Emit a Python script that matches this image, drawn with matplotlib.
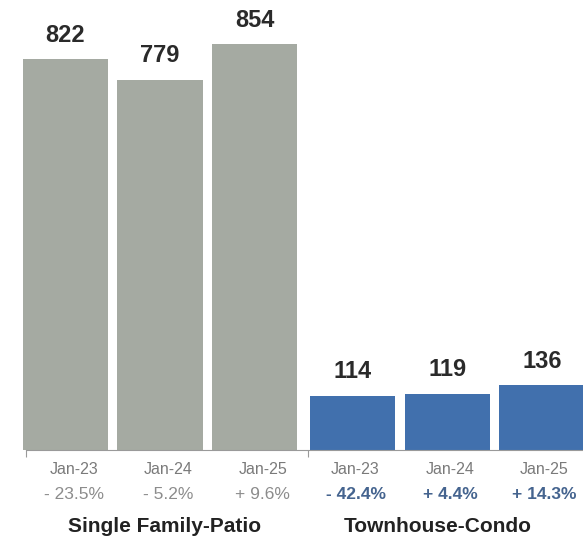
import matplotlib.pyplot as plt

plt.rcParams['font.family'] = ['Liberation Sans', 'DejaVu Sans']

# January closed sales by property type
groups = ["Single Family-Patio", "Townhouse-Condo"]
months = ["Jan-23", "Jan-24", "Jan-25"]
single_family = [822, 779, 854]
townhouse = [114, 119, 136]
single_family_change = ["- 23.5%", "- 5.2%", "+ 9.6%"]
townhouse_change = ["- 42.4%", "+ 4.4%", "+ 14.3%"]

gray = "#a5aaa2"
blue = "#4170ad"

fig = plt.figure(figsize=(5.83, 5.39), dpi=100)
ax = fig.add_axes([0, 0.165, 1, 0.835])

gap = 0.04
x_sf = [0, 1, 2]
x_th = [3 + gap, 4 + gap, 5 + gap]

ax.bar(x_sf, single_family, width=0.9, color=gray, zorder=2)
ax.bar(x_th, townhouse, width=0.9, color=blue, zorder=2)

ax.set_xlim(-0.693, 5.476)
ax.set_ylim(0, 947)

# value labels above bars
for x, v in zip(x_sf + x_th, single_family + townhouse):
    ax.annotate(str(v), (x, v), xytext=(0, 9), textcoords="offset points",
                ha="center", va="bottom", fontsize=17, fontweight="bold",
                color="#2a2a2a")

# month and change labels under the baseline
for xs, changes, pct_color, pct_weight, dx in [
        (x_sf, single_family_change, "#8c8c8c", "normal", 6),
        (x_th, townhouse_change, "#45648f", "bold", 2)]:
    for x, m, c in zip(xs, months, changes):
        ax.annotate(m, (x, 0), xycoords=("data", "axes fraction"),
                    xytext=(dx, -14), textcoords="offset points",
                    ha="center", va="center", fontsize=11.5, color="#7a7a7a")
        ax.annotate(c, (x, 0), xycoords=("data", "axes fraction"),
                    xytext=(dx, -32), textcoords="offset points",
                    ha="center", va="center", fontsize=12.5, color=pct_color,
                    fontweight=pct_weight)

for x, name, dx in zip([x_sf[1], x_th[1]], groups, [3, -7]):
    ax.annotate(name, (x, 0), xycoords=("data", "axes fraction"),
                xytext=(dx, -55), textcoords="offset points",
                ha="center", va="center", fontsize=15, fontweight="bold",
                color="#222222")

# baseline with two small ticks
for s in ["top", "right", "left"]:
    ax.spines[s].set_visible(False)
ax.spines["bottom"].set_color("#9a9a9a")
ax.spines["bottom"].set_linewidth(0.8)
ax.spines["bottom"].set_bounds(-0.42, 5.476)
ax.set_xticks([-0.42, 2.57])
ax.set_xticklabels([])
ax.tick_params(axis="x", length=5, color="#9a9a9a", width=0.8)
ax.set_yticks([])

fig.savefig("out.png", dpi=100)
